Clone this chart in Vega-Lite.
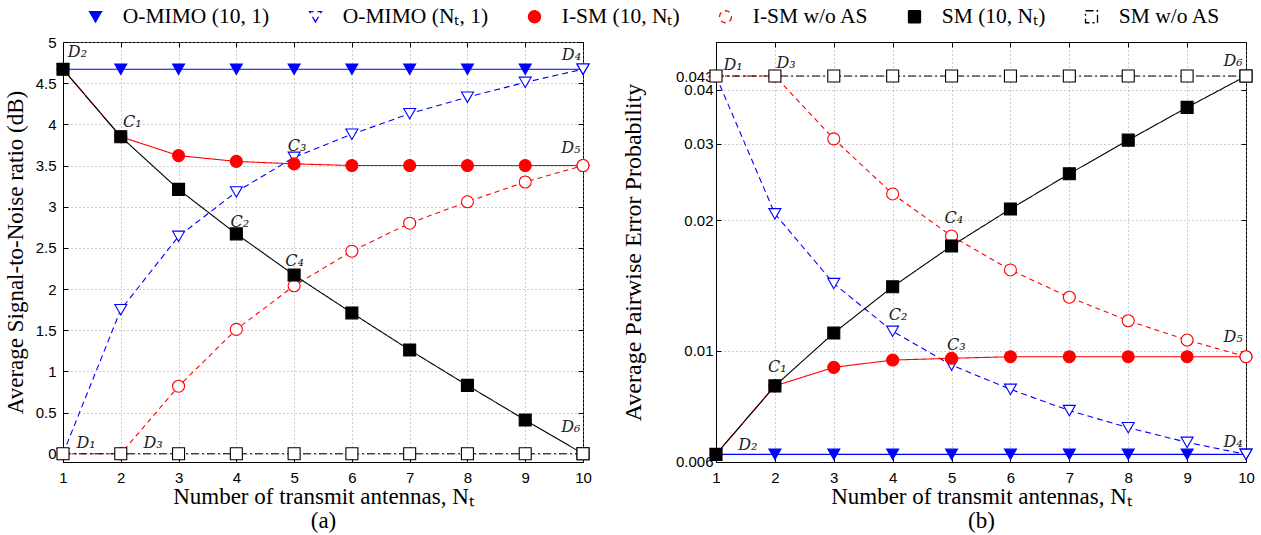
{
  "$schema": "https://vega.github.io/schema/vega-lite/v6.json",
  "background": "white",
  "padding": {"left": 3, "top": 6, "right": 0, "bottom": 0},
  "config": {
    "view": {"stroke": "black", "strokeWidth": 1},
    "axis": {
      "labelFont": "Liberation Sans", "labelFontSize": 15, "labelColor": "black",
      "titleFont": "Liberation Serif", "titleFontWeight": "normal", "titleColor": "black", "titleFontSize": 23,
      "domainColor": "black", "tickColor": "black", "gridColor": "#9a9a9a", "gridDash": [1, 3], "gridOpacity": 1,
      "tickSize": -5, "labelOverlap": false, "labelFlush": false
    },
    "legend": {"labelFont": "Liberation Serif", "labelFontSize": 21.5, "labelColor": "black", "labelLimit": 400}
  },
  "datasets": {
    "snr": [
      {"series": "O-MIMO (10, 1)", "nt": 1, "v": 4.67}, {"series": "O-MIMO (10, 1)", "nt": 2, "v": 4.67}, {"series": "O-MIMO (10, 1)", "nt": 3, "v": 4.67}, {"series": "O-MIMO (10, 1)", "nt": 4, "v": 4.67}, {"series": "O-MIMO (10, 1)", "nt": 5, "v": 4.67}, {"series": "O-MIMO (10, 1)", "nt": 6, "v": 4.67}, {"series": "O-MIMO (10, 1)", "nt": 7, "v": 4.67}, {"series": "O-MIMO (10, 1)", "nt": 8, "v": 4.67}, {"series": "O-MIMO (10, 1)", "nt": 9, "v": 4.67}, {"series": "O-MIMO (10, 1)", "nt": 10, "v": 4.67},
      {"series": "O-MIMO (Nₜ, 1)", "nt": 1, "v": 0}, {"series": "O-MIMO (Nₜ, 1)", "nt": 2, "v": 1.75}, {"series": "O-MIMO (Nₜ, 1)", "nt": 3, "v": 2.64}, {"series": "O-MIMO (Nₜ, 1)", "nt": 4, "v": 3.18}, {"series": "O-MIMO (Nₜ, 1)", "nt": 5, "v": 3.6}, {"series": "O-MIMO (Nₜ, 1)", "nt": 6, "v": 3.88}, {"series": "O-MIMO (Nₜ, 1)", "nt": 7, "v": 4.13}, {"series": "O-MIMO (Nₜ, 1)", "nt": 8, "v": 4.33}, {"series": "O-MIMO (Nₜ, 1)", "nt": 9, "v": 4.51}, {"series": "O-MIMO (Nₜ, 1)", "nt": 10, "v": 4.67},
      {"series": "I-SM (10, Nₜ)", "nt": 1, "v": 4.67}, {"series": "I-SM (10, Nₜ)", "nt": 2, "v": 3.85}, {"series": "I-SM (10, Nₜ)", "nt": 3, "v": 3.62}, {"series": "I-SM (10, Nₜ)", "nt": 4, "v": 3.55}, {"series": "I-SM (10, Nₜ)", "nt": 5, "v": 3.52}, {"series": "I-SM (10, Nₜ)", "nt": 6, "v": 3.5}, {"series": "I-SM (10, Nₜ)", "nt": 7, "v": 3.5}, {"series": "I-SM (10, Nₜ)", "nt": 8, "v": 3.5}, {"series": "I-SM (10, Nₜ)", "nt": 9, "v": 3.5}, {"series": "I-SM (10, Nₜ)", "nt": 10, "v": 3.5},
      {"series": "I-SM w/o AS", "nt": 1, "v": 0}, {"series": "I-SM w/o AS", "nt": 2, "v": 0}, {"series": "I-SM w/o AS", "nt": 3, "v": 0.82}, {"series": "I-SM w/o AS", "nt": 4, "v": 1.51}, {"series": "I-SM w/o AS", "nt": 5, "v": 2.04}, {"series": "I-SM w/o AS", "nt": 6, "v": 2.46}, {"series": "I-SM w/o AS", "nt": 7, "v": 2.8}, {"series": "I-SM w/o AS", "nt": 8, "v": 3.06}, {"series": "I-SM w/o AS", "nt": 9, "v": 3.3}, {"series": "I-SM w/o AS", "nt": 10, "v": 3.5},
      {"series": "SM (10, Nₜ)", "nt": 1, "v": 4.67}, {"series": "SM (10, Nₜ)", "nt": 2, "v": 3.85}, {"series": "SM (10, Nₜ)", "nt": 3, "v": 3.21}, {"series": "SM (10, Nₜ)", "nt": 4, "v": 2.67}, {"series": "SM (10, Nₜ)", "nt": 5, "v": 2.17}, {"series": "SM (10, Nₜ)", "nt": 6, "v": 1.71}, {"series": "SM (10, Nₜ)", "nt": 7, "v": 1.26}, {"series": "SM (10, Nₜ)", "nt": 8, "v": 0.83}, {"series": "SM (10, Nₜ)", "nt": 9, "v": 0.41}, {"series": "SM (10, Nₜ)", "nt": 10, "v": 0},
      {"series": "SM w/o AS", "nt": 1, "v": 0}, {"series": "SM w/o AS", "nt": 2, "v": 0}, {"series": "SM w/o AS", "nt": 3, "v": 0}, {"series": "SM w/o AS", "nt": 4, "v": 0}, {"series": "SM w/o AS", "nt": 5, "v": 0}, {"series": "SM w/o AS", "nt": 6, "v": 0}, {"series": "SM w/o AS", "nt": 7, "v": 0}, {"series": "SM w/o AS", "nt": 8, "v": 0}, {"series": "SM w/o AS", "nt": 9, "v": 0}, {"series": "SM w/o AS", "nt": 10, "v": 0}
    ],
    "pep": [
      {"series": "O-MIMO (10, 1)", "nt": 1, "v": 0.00578}, {"series": "O-MIMO (10, 1)", "nt": 2, "v": 0.00578}, {"series": "O-MIMO (10, 1)", "nt": 3, "v": 0.00578}, {"series": "O-MIMO (10, 1)", "nt": 4, "v": 0.00578}, {"series": "O-MIMO (10, 1)", "nt": 5, "v": 0.00578}, {"series": "O-MIMO (10, 1)", "nt": 6, "v": 0.00578}, {"series": "O-MIMO (10, 1)", "nt": 7, "v": 0.00578}, {"series": "O-MIMO (10, 1)", "nt": 8, "v": 0.00578}, {"series": "O-MIMO (10, 1)", "nt": 9, "v": 0.00578}, {"series": "O-MIMO (10, 1)", "nt": 10, "v": 0.00578},
      {"series": "O-MIMO (Nₜ, 1)", "nt": 1, "v": 0.043}, {"series": "O-MIMO (Nₜ, 1)", "nt": 2, "v": 0.0207}, {"series": "O-MIMO (Nₜ, 1)", "nt": 3, "v": 0.0143}, {"series": "O-MIMO (Nₜ, 1)", "nt": 4, "v": 0.0111}, {"series": "O-MIMO (Nₜ, 1)", "nt": 5, "v": 0.00928}, {"series": "O-MIMO (Nₜ, 1)", "nt": 6, "v": 0.00816}, {"series": "O-MIMO (Nₜ, 1)", "nt": 7, "v": 0.00729}, {"series": "O-MIMO (Nₜ, 1)", "nt": 8, "v": 0.00666}, {"series": "O-MIMO (Nₜ, 1)", "nt": 9, "v": 0.00616}, {"series": "O-MIMO (Nₜ, 1)", "nt": 10, "v": 0.00578},
      {"series": "I-SM (10, Nₜ)", "nt": 1, "v": 0.00578}, {"series": "I-SM (10, Nₜ)", "nt": 2, "v": 0.00831}, {"series": "I-SM (10, Nₜ)", "nt": 3, "v": 0.00917}, {"series": "I-SM (10, Nₜ)", "nt": 4, "v": 0.00953}, {"series": "I-SM (10, Nₜ)", "nt": 5, "v": 0.00962}, {"series": "I-SM (10, Nₜ)", "nt": 6, "v": 0.0097}, {"series": "I-SM (10, Nₜ)", "nt": 7, "v": 0.0097}, {"series": "I-SM (10, Nₜ)", "nt": 8, "v": 0.0097}, {"series": "I-SM (10, Nₜ)", "nt": 9, "v": 0.0097}, {"series": "I-SM (10, Nₜ)", "nt": 10, "v": 0.0097},
      {"series": "I-SM w/o AS", "nt": 1, "v": 0.043}, {"series": "I-SM w/o AS", "nt": 2, "v": 0.043}, {"series": "I-SM w/o AS", "nt": 3, "v": 0.0308}, {"series": "I-SM w/o AS", "nt": 4, "v": 0.023}, {"series": "I-SM w/o AS", "nt": 5, "v": 0.0184}, {"series": "I-SM w/o AS", "nt": 6, "v": 0.01537}, {"series": "I-SM w/o AS", "nt": 7, "v": 0.0133}, {"series": "I-SM w/o AS", "nt": 8, "v": 0.01174}, {"series": "I-SM w/o AS", "nt": 9, "v": 0.0106}, {"series": "I-SM w/o AS", "nt": 10, "v": 0.0097},
      {"series": "SM (10, Nₜ)", "nt": 1, "v": 0.00578}, {"series": "SM (10, Nₜ)", "nt": 2, "v": 0.00831}, {"series": "SM (10, Nₜ)", "nt": 3, "v": 0.011}, {"series": "SM (10, Nₜ)", "nt": 4, "v": 0.01406}, {"series": "SM (10, Nₜ)", "nt": 5, "v": 0.01746}, {"series": "SM (10, Nₜ)", "nt": 6, "v": 0.02124}, {"series": "SM (10, Nₜ)", "nt": 7, "v": 0.0256}, {"series": "SM (10, Nₜ)", "nt": 8, "v": 0.0306}, {"series": "SM (10, Nₜ)", "nt": 9, "v": 0.0364}, {"series": "SM (10, Nₜ)", "nt": 10, "v": 0.043},
      {"series": "SM w/o AS", "nt": 1, "v": 0.043}, {"series": "SM w/o AS", "nt": 2, "v": 0.043}, {"series": "SM w/o AS", "nt": 3, "v": 0.043}, {"series": "SM w/o AS", "nt": 4, "v": 0.043}, {"series": "SM w/o AS", "nt": 5, "v": 0.043}, {"series": "SM w/o AS", "nt": 6, "v": 0.043}, {"series": "SM w/o AS", "nt": 7, "v": 0.043}, {"series": "SM w/o AS", "nt": 8, "v": 0.043}, {"series": "SM w/o AS", "nt": 9, "v": 0.043}, {"series": "SM w/o AS", "nt": 10, "v": 0.043}
    ],
    "annA": [
      {"label": "D₂", "nt": 1.25, "v": 4.88}, {"label": "C₁", "nt": 2.2, "v": 4.03}, {"label": "C₃", "nt": 5.05, "v": 3.74},
      {"label": "C₂", "nt": 4.06, "v": 2.82}, {"label": "C₄", "nt": 5.01, "v": 2.34}, {"label": "D₄", "nt": 9.8, "v": 4.84},
      {"label": "D₅", "nt": 9.79, "v": 3.71}, {"label": "D₆", "nt": 9.79, "v": 0.33}, {"label": "D₁", "nt": 1.4, "v": 0.13},
      {"label": "D₃", "nt": 2.56, "v": 0.13}
    ],
    "annB": [
      {"label": "D₁", "nt": 1.29, "v": 0.0456}, {"label": "D₃", "nt": 2.19, "v": 0.0461}, {"label": "D₆", "nt": 9.78, "v": 0.0466},
      {"label": "C₄", "nt": 5.04, "v": 0.0203}, {"label": "C₂", "nt": 4.09, "v": 0.0121}, {"label": "C₁", "nt": 2.04, "v": 0.0092},
      {"label": "C₃", "nt": 5.08, "v": 0.0103}, {"label": "D₂", "nt": 1.54, "v": 0.00607}, {"label": "D₅", "nt": 9.78, "v": 0.01077},
      {"label": "D₄", "nt": 9.78, "v": 0.00617}
    ]
  },
  "spacing": 28,
  "resolve": {"legend": {"color": "shared"}, "scale": {"color": "shared"}},
  "hconcat": [
    {
      "width": 520, "height": 420,
      "resolve": {"axis": {"x": "independent", "y": "independent"}},
      "layer": [
        {
          "data": {"name": "snr"},
          "mark": {"type": "line", "strokeWidth": 1.1},
          "encoding": {
            "x": {"field": "nt", "type": "quantitative", "scale": {"domain": [1, 10], "nice": false},
                  "axis": {"values": [1,2,3,4,5,6,7,8,9,10], "grid": true, "title": ["Number of transmit antennas, Nₜ", "(a)"], "titleLineHeight": 24, "labelPadding": 13, "titlePadding": 0}},
            "y": {"field": "v", "type": "quantitative", "scale": {"domain": [-0.1, 5], "nice": false, "zero": false},
                  "axis": {"values": [0,0.5,1,1.5,2,2.5,3,3.5,4,4.5,5], "format": "~g", "grid": true, "title": "Average Signal-to-Noise ratio (dB)", "titleFontSize": 23, "labelPadding": 12, "titlePadding": 8}},
            "color": {"field": "series", "type": "nominal",
                      "scale": {"domain": ["O-MIMO (10, 1)", "O-MIMO (Nₜ, 1)", "I-SM (10, Nₜ)", "I-SM w/o AS", "SM (10, Nₜ)", "SM w/o AS"], "range": ["#0000ff", "#0000ff", "#ff0000", "#ff0000", "#000000", "#000000"]},
                      "legend": {"orient": "none", "legendX": 15, "legendY": -36, "direction": "horizontal", "columns": 6, "gridAlign": "none", "title": null, "symbolSize": 1225, "symbolOffset": 6.75, "labelOffset": 16.5, "columnPadding": 28,
                        "encode": {"symbols": {"update": {
                          "shape": {"signal": "['M-1,0L1,0M-0.34,-0.26L0.34,-0.26L0,0.31Z', 'M-1,0L-0.75,0M0.45,0L0.75,0M0.88,0L0.95,0M-0.34,-0.26L0.34,-0.26L0,0.31Z', 'M-1,0L1,0M0.3,0L0.26,0.15L0.15,0.26L0,0.3L-0.15,0.26L-0.26,0.15L-0.3,0L-0.26,-0.15L-0.15,-0.26L0,-0.3L0.15,-0.26L0.26,-0.15Z', 'M-1,0L-0.7,0M0.45,0L0.75,0M0.88,0L0.95,0M0.3,0L0.26,0.15L0.15,0.26L0,0.3L-0.15,0.26L-0.26,0.15L-0.3,0L-0.26,-0.15L-0.15,-0.26L0,-0.3L0.15,-0.26L0.26,-0.15Z', 'M-1,0L1,0M-0.3,-0.3L0.3,-0.3L0.3,0.3L-0.3,0.3Z', 'M-1,0L-0.7,0M0.45,0L0.75,0M0.88,0L0.95,0M-0.28,-0.28L0.28,-0.28L0.28,0.28L-0.28,0.28Z'][datum.index]"},
                          "fill": {"signal": "['#0000ff','#ffffff','#ff0000','#ffffff','#000000','#ffffff'][datum.index]"},
                          "stroke": {"signal": "['#0000ff','#0000ff','#ff0000','#ff0000','#000000','#000000'][datum.index]"},
                          "strokeDash": {"value": [1, 0]},
                          "strokeWidth": {"value": 1.3},
                          "opacity": {"value": 1},
                          "fillOpacity": {"value": 1},
                          "size": {"value": 1225}
                        }}}}},
            "strokeDash": {"field": "series", "type": "nominal", "legend": null,
                           "scale": {"domain": ["O-MIMO (10, 1)", "O-MIMO (Nₜ, 1)", "I-SM (10, Nₜ)", "I-SM w/o AS", "SM (10, Nₜ)", "SM w/o AS"], "range": [[1, 0], [6, 4], [1, 0], [5, 4], [1, 0], [8, 3, 2, 3]]}}
          }
        },
        {
          "data": {"name": "snr"},
          "mark": {"type": "point", "opacity": 1, "strokeWidth": 1.1},
          "encoding": {
            "x": {"field": "nt", "type": "quantitative", "axis": {"orient": "top", "values": [1,2,3,4,5,6,7,8,9,10], "labels": false, "title": null, "grid": false, "domain": false}},
            "y": {"field": "v", "type": "quantitative", "axis": {"orient": "right", "values": [0,0.5,1,1.5,2,2.5,3,3.5,4,4.5,5], "labels": false, "title": null, "grid": false, "domain": false}},
            "color": {"field": "series", "type": "nominal"},
            "shape": {"field": "series", "type": "nominal", "legend": null,
                      "scale": {"domain": ["O-MIMO (10, 1)", "O-MIMO (Nₜ, 1)", "I-SM (10, Nₜ)", "I-SM w/o AS", "SM (10, Nₜ)", "SM w/o AS"], "range": ["triangle-down", "triangle-down", "circle", "circle", "square", "square"]}},
            "fill": {"field": "series", "type": "nominal", "legend": null,
                     "scale": {"domain": ["O-MIMO (10, 1)", "O-MIMO (Nₜ, 1)", "I-SM (10, Nₜ)", "I-SM w/o AS", "SM (10, Nₜ)", "SM w/o AS"], "range": ["#0000ff", "#ffffff", "#ff0000", "#ffffff", "#000000", "#ffffff"]}},
            "size": {"field": "series", "type": "nominal", "legend": null,
                     "scale": {"domain": ["O-MIMO (10, 1)", "O-MIMO (Nₜ, 1)", "I-SM (10, Nₜ)", "I-SM w/o AS", "SM (10, Nₜ)", "SM w/o AS"], "range": [144, 144, 120, 140, 100, 90]}}
          }
        },
        {
          "data": {"name": "annA"},
          "mark": {"type": "text", "font": "DejaVu Serif", "fontStyle": "italic", "fontSize": 16, "align": "center", "baseline": "middle", "color": "#222"},
          "encoding": {
            "x": {"field": "nt", "type": "quantitative", "axis": null},
            "y": {"field": "v", "type": "quantitative", "axis": null},
            "text": {"field": "label"}
          }
        }
      ]
    },
    {
      "width": 530, "height": 420,
      "resolve": {"axis": {"x": "independent", "y": "independent"}},
      "layer": [
        {
          "data": {"name": "pep"},
          "mark": {"type": "line", "strokeWidth": 1.1},
          "encoding": {
            "x": {"field": "nt", "type": "quantitative", "scale": {"domain": [1, 10], "nice": false},
                  "axis": {"values": [1,2,3,4,5,6,7,8,9,10], "grid": true, "title": ["Number of transmit antennas, Nₜ", "(b)"], "titleLineHeight": 24, "labelPadding": 13, "titlePadding": 0}},
            "y": {"field": "v", "type": "quantitative", "scale": {"type": "log", "domain": [0.00555, 0.0515], "nice": false},
                  "axis": {"values": [0.00556, 0.01, 0.02, 0.03, 0.04, 0.043], "labelExpr": "datum.value < 0.006 ? '0.006' : format(datum.value, '~g')", "grid": true, "title": "Average Pairwise Error Probability", "titleFontSize": 24, "labelPadding": 8, "titlePadding": 30}},
            "color": {"field": "series", "type": "nominal",
                      "scale": {"domain": ["O-MIMO (10, 1)", "O-MIMO (Nₜ, 1)", "I-SM (10, Nₜ)", "I-SM w/o AS", "SM (10, Nₜ)", "SM w/o AS"], "range": ["#0000ff", "#0000ff", "#ff0000", "#ff0000", "#000000", "#000000"]}},
            "strokeDash": {"field": "series", "type": "nominal", "legend": null,
                           "scale": {"domain": ["O-MIMO (10, 1)", "O-MIMO (Nₜ, 1)", "I-SM (10, Nₜ)", "I-SM w/o AS", "SM (10, Nₜ)", "SM w/o AS"], "range": [[1, 0], [6, 4], [1, 0], [5, 4], [1, 0], [8, 3, 2, 3]]}}
          }
        },
        {
          "data": {"name": "pep"},
          "mark": {"type": "point", "opacity": 1, "strokeWidth": 1.1},
          "encoding": {
            "x": {"field": "nt", "type": "quantitative", "axis": {"orient": "top", "values": [1,2,3,4,5,6,7,8,9,10], "labels": false, "title": null, "grid": false, "domain": false}},
            "y": {"field": "v", "type": "quantitative", "axis": {"orient": "right", "values": [0.01, 0.02, 0.03, 0.04, 0.043], "labels": false, "title": null, "grid": false, "domain": false}},
            "color": {"field": "series", "type": "nominal"},
            "shape": {"field": "series", "type": "nominal", "legend": null,
                      "scale": {"domain": ["O-MIMO (10, 1)", "O-MIMO (Nₜ, 1)", "I-SM (10, Nₜ)", "I-SM w/o AS", "SM (10, Nₜ)", "SM w/o AS"], "range": ["triangle-down", "triangle-down", "circle", "circle", "square", "square"]}},
            "fill": {"field": "series", "type": "nominal", "legend": null,
                     "scale": {"domain": ["O-MIMO (10, 1)", "O-MIMO (Nₜ, 1)", "I-SM (10, Nₜ)", "I-SM w/o AS", "SM (10, Nₜ)", "SM w/o AS"], "range": ["#0000ff", "#ffffff", "#ff0000", "#ffffff", "#000000", "#ffffff"]}},
            "size": {"field": "series", "type": "nominal", "legend": null,
                     "scale": {"domain": ["O-MIMO (10, 1)", "O-MIMO (Nₜ, 1)", "I-SM (10, Nₜ)", "I-SM w/o AS", "SM (10, Nₜ)", "SM w/o AS"], "range": [144, 144, 120, 140, 100, 90]}}
          }
        },
        {
          "data": {"name": "annB"},
          "mark": {"type": "text", "font": "DejaVu Serif", "fontStyle": "italic", "fontSize": 16, "align": "center", "baseline": "middle", "color": "#222"},
          "encoding": {
            "x": {"field": "nt", "type": "quantitative", "axis": null},
            "y": {"field": "v", "type": "quantitative", "axis": null},
            "text": {"field": "label"}
          }
        }
      ]
    }
  ]
}
